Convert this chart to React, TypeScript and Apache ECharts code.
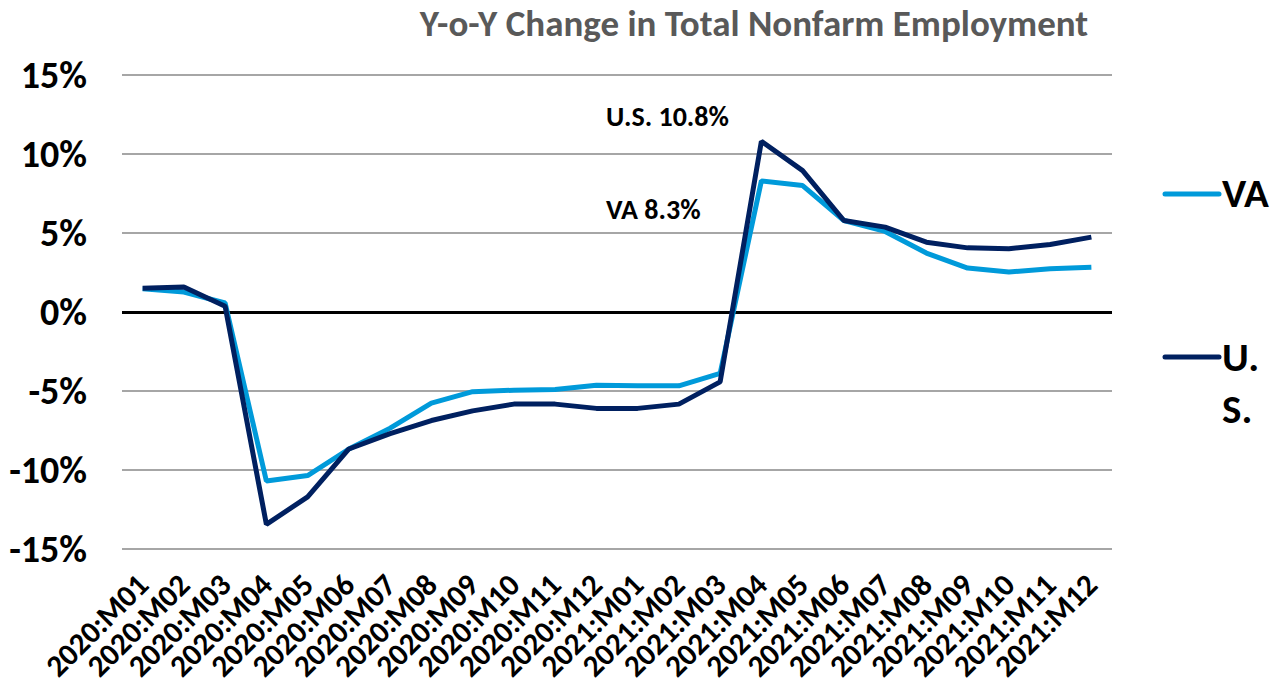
import React, { useEffect, useRef } from "react";
import * as echarts from "echarts";

const categories = [
  "2020:M01", "2020:M02", "2020:M03", "2020:M04", "2020:M05", "2020:M06",
  "2020:M07", "2020:M08", "2020:M09", "2020:M10", "2020:M11", "2020:M12",
  "2021:M01", "2021:M02", "2021:M03", "2021:M04", "2021:M05", "2021:M06",
  "2021:M07", "2021:M08", "2021:M09", "2021:M10", "2021:M11", "2021:M12",
];
const vaValues = [
  1.47, 1.26, 0.57, -10.7, -10.35, -8.67, -7.35, -5.77, -5.04, -4.95, -4.9, -4.63,
  -4.67, -4.67, -3.89, 8.3, 8.0, 5.79, 5.1, 3.73, 2.78, 2.53, 2.74, 2.84,
];
const usValues = [
  1.5, 1.58, 0.36, -13.44, -11.7, -8.67, -7.7, -6.87, -6.26, -5.83, -5.83, -6.1,
  -6.1, -5.83, -4.42, 10.8, 8.95, 5.79, 5.37, 4.42, 4.06, 4.0, 4.27, 4.74,
];
const yTicks = [-15, -10, -5, 0, 5, 10, 15];
const title = "Y-o-Y Change in Total Nonfarm Employment";
const usNote = "U.S. 10.8%";
const vaNote = "VA 8.3%";

const FONT = "Carlito, 'Liberation Sans Narrow', 'Open Sans', sans-serif";
const VA_COLOR = "#009ADA";
const US_COLOR = "#002060";

export default function App() {
  const ref = useRef<HTMLDivElement>(null);
  useEffect(() => {
    if (!ref.current) return;
    const chart = echarts.init(ref.current, undefined, { renderer: "svg" });
    chart.setOption({
      animation: false,
      backgroundColor: "#ffffff",
      title: {
        text: title,
        left: 749,
        top: 0,
        textAlign: "center",
        textStyle: { fontFamily: FONT, fontSize: 37, fontWeight: "bold", color: "#595959" },
      },
      grid: { left: 122, right: 166, top: 75, bottom: 139, containLabel: false },
      xAxis: {
        type: "category",
        data: categories,
        boundaryGap: true,
        axisLine: { show: false, onZero: false },
        axisTick: { show: false },
        splitLine: { show: false },
        axisLabel: {
          interval: 0,
          rotate: 45,
          margin: 30,
          fontFamily: FONT,
          fontSize: 31,
          fontWeight: "bold",
          color: "#000000",
        },
      },
      yAxis: {
        type: "value",
        min: yTicks[0],
        max: yTicks[yTicks.length - 1],
        interval: 5,
        axisLine: { show: false },
        axisTick: { show: false },
        splitLine: { lineStyle: { color: "#A6A6A6", width: 2 } },
        axisLabel: {
          margin: 35,
          formatter: (v: number) => `${v}%`,
          fontFamily: FONT,
          fontSize: 38,
          fontWeight: "bold",
          color: "#000000",
        },
      },
      series: [
        {
          name: "VA",
          type: "line",
          data: vaValues,
          symbol: "none",
          lineStyle: { color: VA_COLOR, width: 5 },
          z: 3,
          markLine: {
            silent: true,
            symbol: "none",
            label: { show: false },
            lineStyle: { color: "#000000", width: 3, type: "solid" },
            data: [{ yAxis: 0 }],
            z: 2,
          },
        },
        {
          name: "U.S.",
          type: "line",
          data: usValues,
          symbol: "none",
          lineStyle: { color: US_COLOR, width: 5 },
          z: 4,
        },
      ],
      graphic: [
        {
          type: "text",
          left: 606,
          top: 102,
          style: { text: usNote, fontFamily: FONT, fontSize: 28, fontWeight: "bold", fill: "#000000" },
        },
        {
          type: "text",
          left: 606,
          top: 195,
          style: { text: vaNote, fontFamily: FONT, fontSize: 28, fontWeight: "bold", fill: "#000000" },
        },
        {
          type: "line",
          shape: { x1: 1165, y1: 194, x2: 1219, y2: 194 },
          style: { stroke: VA_COLOR, lineWidth: 5, lineCap: "round" },
        },
        {
          type: "text",
          left: 1222,
          top: 172,
          style: { text: "VA", fontFamily: FONT, fontSize: 41, fontWeight: "bold", fill: "#000000" },
        },
        {
          type: "line",
          shape: { x1: 1165, y1: 357, x2: 1219, y2: 357 },
          style: { stroke: US_COLOR, lineWidth: 5, lineCap: "round" },
        },
        {
          type: "text",
          left: 1222,
          top: 331,
          style: { text: "U.\nS.", lineHeight: 52, fontFamily: FONT, fontSize: 41, fontWeight: "bold", fill: "#000000" },
        },
      ],
    });
    return () => chart.dispose();
  }, []);
  return (
    <div
      ref={ref}
      style={{ position: "fixed", left: 0, top: 0, width: 1278, height: 688 }}
    />
  );
}
